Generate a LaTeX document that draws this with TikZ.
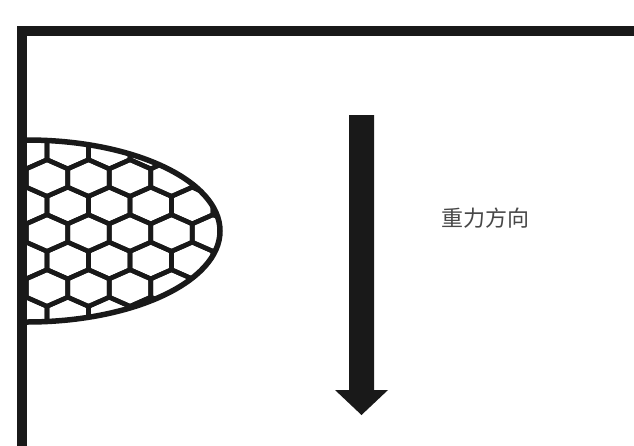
\documentclass[tikz,border=0pt]{standalone}
\usepackage{fontspec}
\newfontfamily\cjk{Noto Sans CJK SC}
\begin{document}
\begin{tikzpicture}[x=1pt,y=-1pt,
  wall/.style={line width=10pt,black!90},
  cell/.style={line width=4.6pt,black!90,line join=round},
  rim/.style={line width=5.5pt,black!90},
  caption/.style={font=\cjk\fontsize{22}{24}\selectfont,text=black!72,inner sep=0pt}]
\useasboundingbox (0,0) rectangle (634,445);
\fill[white] (0,0) rectangle (634,445);

% honeycomb nest hanging from the wall
\begin{scope}
  \clip (27,140) arc (-90:90:193 and 91) -- cycle;
  \foreach \j in {-4,...,4}{
    \foreach \i in {-1,...,6}{
      \pgfmathsetmacro\cx{47+41.5*\i+20.75*mod(abs(\j),2)}
      \pgfmathsetmacro\cy{233+27.5*\j}
      \draw[cell] (\cx,\cy) ++(0,-18.33) -- ++(20.75,9.17) -- ++(0,18.33)
        -- ++(-20.75,9.17) -- ++(-20.75,-9.17) -- ++(0,-18.33) -- cycle;
    }
  }
\end{scope}
\coordinate (nestTop) at (27,140);
\draw[rim] (nestTop) arc (-90:90:193 and 91);

% ceiling and wall
\coordinate (corner) at (22,31);
\coordinate (ceilEnd) at (632,31);
\coordinate (wallEnd) at (22,441);
\draw[wall,line cap=rect] (ceilEnd) -- (corner) -- (wallEnd);

% gravity arrow
\fill[black!90] (349,115) -- (374,115) -- (374,390) -- (388,390)
  -- (361.5,415) -- (335,390) -- (349,390) -- cycle;

\node[caption] (dir) at (485,218) {重力方向};
\end{tikzpicture}
\end{document}
